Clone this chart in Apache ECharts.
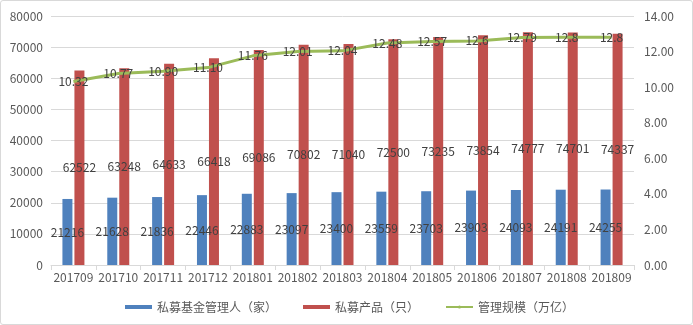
<!DOCTYPE html>
<html><head><meta charset="utf-8">
<script src="https://cdn.jsdelivr.net/npm/echarts@6/dist/echarts.min.js"></script>
<style>html,body{margin:0;padding:0;background:#fff}#c{width:693px;height:325px;box-sizing:border-box;border:1px solid #d9d9d9;border-radius:3px}</style>
</head><body><div id="c"></div>
<script>
const categories = ['201709','201710','201711','201712','201801','201802','201803','201804','201805','201806','201807','201808','201809'];
const managers = [21216,21628,21836,22446,22883,23097,23400,23559,23703,23903,24093,24191,24255];
const products = [62522,63248,64633,66418,69086,70802,71040,72500,73235,73854,74777,74701,74337];
const scale = [10.32,10.77,10.90,11.10,11.76,12.01,12.04,12.48,12.57,12.6,12.79,12.8,12.8];
const scaleLabels = ['10.32','10.77','10.90','11.10','11.76','12.01','12.04','12.48','12.57','12.6','12.79','12.8','12.8'];
const leftTicks = {min:0,max:80000,interval:10000};
const rightTicks = {min:0,max:14,interval:2};
const names = ['私募基金管理人（家）','私募产品（只）','管理规模（万亿）'];

const font = '"Noto Sans CJK SC", "Noto Sans", sans-serif';
const chart = echarts.init(document.getElementById('c'));
const lbl = {show:true, position:'inside', color:'#404040', fontSize:12, fontFamily:font};
chart.setOption({
  animation:false,
  textStyle:{fontFamily:font},
  grid:{left:50,right:58,top:15,bottom:59},
  legend:{bottom:6,left:119,itemGap:26,itemWidth:27,itemHeight:4,
    textStyle:{color:'#595959',fontSize:12,fontFamily:font},
    data:[{name:names[0],icon:'rect'},{name:names[1],icon:'rect'},{name:names[2]}]},
  xAxis:{type:'category',data:categories,
    axisLine:{lineStyle:{color:'#d9d9d9'}},
    axisTick:{show:true,alignWithLabel:false,length:5,lineStyle:{color:'#d9d9d9'}},
    axisLabel:{color:'#595959',fontSize:12,margin:6,interval:0}},
  yAxis:[
    {type:'value',min:leftTicks.min,max:leftTicks.max,interval:leftTicks.interval,
     axisLabel:{color:'#595959',fontSize:12,margin:8,formatter:v=>String(v)},
     splitLine:{lineStyle:{color:'#d9d9d9'}},axisLine:{show:false},axisTick:{show:false}},
    {type:'value',min:rightTicks.min,max:rightTicks.max,interval:rightTicks.interval,
     axisLabel:{color:'#595959',fontSize:12,margin:10,formatter:v=>v.toFixed(2)},
     splitLine:{show:false},axisLine:{show:false},axisTick:{show:false}}
  ],
  series:[
    {name:names[0],type:'bar',data:managers,barWidth:10,barGap:'20%',itemStyle:{color:'#4f81bd'},label:lbl},
    {name:names[1],type:'bar',data:products,barWidth:10,barGap:'20%',itemStyle:{color:'#c0504d'},label:lbl},
    {name:names[2],type:'line',yAxisIndex:1,data:scale,symbol:'circle',symbolSize:0,showSymbol:true,z:5,
     lineStyle:{color:'#9bbb59',width:3},itemStyle:{color:'#9bbb59'},
     label:{show:true,position:'inside',color:'#404040',fontSize:12,fontFamily:font,
       formatter:p=>scaleLabels[p.dataIndex]}}
  ]
});
</script></body></html>
